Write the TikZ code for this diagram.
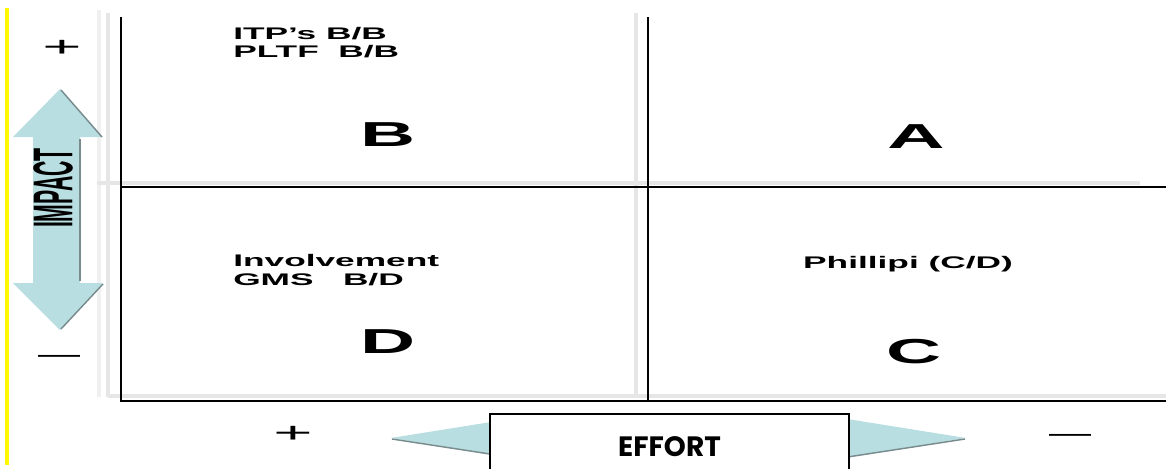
\documentclass[tikz,border=0pt]{standalone}
\usepackage{fontspec}
\usepackage{graphicx}
\setmainfont{Liberation Sans}
\newfontfamily\effortfont{Poppins}
\usepackage{tikz}

\definecolor{arrowblue}{RGB}{185,222,226}
\definecolor{arrowedge}{RGB}{120,140,142}
\definecolor{shadowgray}{RGB}{230,230,230}
\definecolor{markyellow}{RGB}{255,250,0}

\begin{document}
\begin{tikzpicture}[x=0.75pt,y=-0.75pt,
    grid line/.style={line width=1.4pt,black},
    shadow line/.style={line width=2.4pt,shadowgray},
    edge line/.style={line width=1.1pt,arrowedge},
    cell text/.style={anchor=base west,inner sep=0pt,font=\fontsize{12.6}{14}\selectfont\bfseries},
    cell letter/.style={inner sep=0pt,font=\fontsize{26}{30}\selectfont\bfseries},
    sign/.style={inner sep=0pt,font=\fontsize{21}{24}\selectfont}]
    \useasboundingbox (0,0) rectangle (1166,468);
    % yellow margin mark
    \draw[markyellow,line width=3pt] (7,8) -- (7,465);
    % faint shadow of the grid
    \draw[shadow line,shadowgray!60] (99,10) -- (99,397);
    \draw[shadow line] (108,13) -- (108,397);
    \draw[shadow line] (636,13) -- (636,397);
    \draw[shadow line] (97,183) -- (1140,183);
    \draw[shadow line] (108,396) -- (1166,396);
    % grid
    \draw[grid line] (121,17) -- (121,401) -- (1166,401);
    \draw[grid line] (648,17) -- (648,401);
    \draw[grid line] (121,187) -- (1166,187);
    % impact arrow
    \fill[arrowblue] (60,89) -- (102,137) -- (80,137) -- (80,283) -- (103,283) -- (60,330)
        -- (13,283) -- (33,283) -- (33,137) -- (13,137) -- cycle;
    \draw[edge line] (61,90) -- (102,137);
    \draw[edge line] (80,139) -- (80,281);
    \draw[edge line] (103,284) -- (61,329);
    \node[inner sep=0pt,rotate=90,font=\fontsize{42}{44}\selectfont\bfseries] (impact) at (53,188)
        {\scalebox{0.38}[1]{IMPACT}};
    \node[sign] (iplus) at (62,48) {\scalebox{2.4}[1]{+}};
    \node[sign] (iminus) at (59,359) {\scalebox{1.5}[1]{—}};
    % effort arrow
    \fill[arrowblue] (391,438) -- (516,418) -- (841,418) -- (966,438) -- (841,458) -- (516,458) -- cycle;
    \draw[edge line] (392,439) -- (516,458);
    \draw[edge line] (965,439) -- (841,458);
    \node[draw,fill=white,line width=1.5pt,inner sep=0pt,minimum width=269pt,minimum height=49.5pt,
        font=\effortfont\fontsize{21}{24}\selectfont\bfseries] (effort) at (669.5,447) {EFFORT};
    \node[sign] (eplus) at (293,434) {\scalebox{2.4}[1]{+}};
    \node[sign] (eminus) at (1070,438) {\scalebox{1.5}[1]{—}};
    % quadrant letters
    \node[cell letter] (qb) at (388,135) {\scalebox{2.2}[1]{B}};
    \node[cell letter] (qa) at (916,137) {\scalebox{2.3}[1]{A}};
    \node[cell letter] (qd) at (388,342) {\scalebox{2.2}[1]{D}};
    \node[cell letter] (qc) at (914,352) {\scalebox{2.2}[1]{C}};
    % quadrant notes
    \node[cell text] (itp) at (233,39) {\scalebox{2.1}[1]{ITP’s B/B}};
    \node[cell text] (pltf) at (233,57) {\scalebox{2.1}[1]{PLTF \ B/B}};
    \node[cell text] (involve) at (233,266) {\scalebox{2.1}[1]{Involvement}};
    \node[cell text] (gms) at (233,285) {\scalebox{2.1}[1]{GMS \ \ B/D}};
    \node[cell text,anchor=base] (phil) at (908,268) {\scalebox{2.1}[1]{Phillipi (C/D)}};
\end{tikzpicture}
\end{document}
